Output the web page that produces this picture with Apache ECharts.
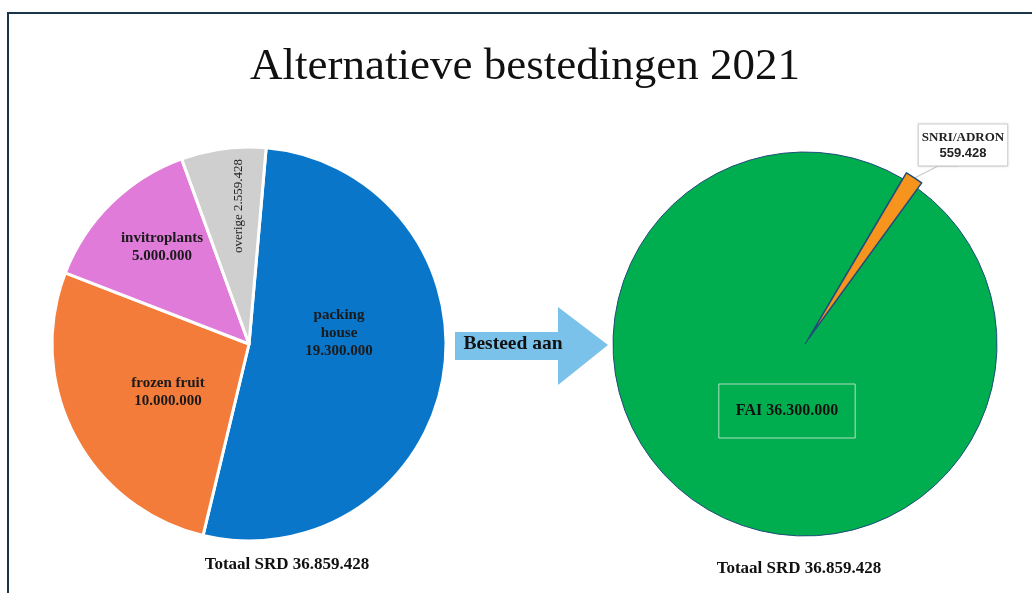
<!DOCTYPE html>
<html>
<head>
<meta charset="utf-8">
<script src="https://cdn.jsdelivr.net/npm/echarts@6/dist/echarts.min.js"></script>
<style>
  html, body { margin: 0; padding: 0; background: #fff; }
  #chart { width: 1032px; height: 593px; }
</style>
</head>
<body>
<div id="chart"></div>
<script>
// Linker taart: geplande bestedingen
const categories = ['packing house', 'frozen fruit', 'invitroplants', 'overige'];
const values = [19300000, 10000000, 5000000, 2559428];
const colors = ['#0A76CA', '#F47C3A', '#E07BDA', '#CFCFCF'];

// Rechter taart: waar het aan besteed is
const categories2 = ['FAI', 'SNRI/ADRON'];
const values2 = [36300000, 559428];
const colors2 = ['#00AE4F', '#F7941D'];

const serif = 'Liberation Serif';

// getal met punten als duizendtallen
function fmt(n) {
    return String(n).replace(/\B(?=(\d{3})+(?!\d))/g, '.');
}

const total1 = values.reduce((a, b) => a + b, 0);
const total2 = values2.reduce((a, b) => a + b, 0);

// labelposities (pixels) voor de linker taart
const leftLabelPos = [[339, 333], [168, 392], [162, 247], [239, 206]];

// rechter taart geometrie
const center2 = [805, 344];
const radius2 = 192;
const start2 = 54;
const offset2 = 7;

// middenhoek van het SNRI-stuk, uit de waarden
const midRad = (start2 - (values2[0] + values2[1] / 2) / total2 * 360) * Math.PI / 180;
// middelpunt van het uitgetrokken stuk
const center3 = [center2[0] + offset2 * Math.cos(midRad), center2[1] - offset2 * Math.sin(midRad)];
const tip = [center3[0] + (radius2 - 1) * Math.cos(midRad), center3[1] - (radius2 - 1) * Math.sin(midRad)];

const chart = echarts.init(document.getElementById('chart'));

const option = {
    backgroundColor: '#fff',
    animation: false,
    title: [
        {
            text: 'Alternatieve bestedingen 2021',
            left: 520, top: 40, textAlign: 'center',
            textStyle: { fontFamily: serif, fontSize: 45, fontWeight: 'normal', color: '#111' }
        },
        {
            text: 'Totaal SRD ' + fmt(total1),
            left: 282, top: 551, textAlign: 'center',
            textStyle: { fontFamily: serif, fontSize: 17, fontWeight: 'bold', color: '#111' }
        },
        {
            text: 'Totaal SRD ' + fmt(total2),
            left: 794, top: 555, textAlign: 'center',
            textStyle: { fontFamily: serif, fontSize: 17, fontWeight: 'bold', color: '#111' }
        }
    ],
    graphic: [
        {
            type: 'rect', silent: true,
            shape: { x: 8, y: 13, width: 1040, height: 600 },
            style: { fill: 'none', stroke: '#1B3447', lineWidth: 2 }
        },
        {
            type: 'polygon', silent: true,
            shape: { points: [[455, 332], [558, 332], [558, 307], [608, 345], [558, 385], [558, 360], [455, 360]] },
            style: { fill: '#7AC2EA' }
        },
        {
            type: 'text', silent: true,
            x: 513, y: 344,
            style: {
                text: 'Besteed aan', fontFamily: serif, fontSize: 19.5, fontWeight: 'bold',
                fill: '#111', align: 'center', verticalAlign: 'middle'
            }
        }
    ],
    series: [
        {
            type: 'pie',
            center: [249, 344],
            radius: 197,
            startAngle: 85,
            clockwise: true,
            emphasis: { disabled: true },
            itemStyle: { borderColor: '#fff', borderWidth: 3 },
            label: {
                show: true,
                position: 'inside',
                fontFamily: serif,
                fontSize: 15,
                fontWeight: 'bold',
                color: '#1a1a1a',
                lineHeight: 18,
                formatter: p => {
                    const name = p.dataIndex === 0 ? p.name.replace(' ', '\n') : p.name;
                    if (p.dataIndex === 3) return name + ' ' + fmt(p.value);
                    return name + '\n' + fmt(p.value);
                }
            },
            labelLine: { show: false },
            labelLayout: p => ({
                x: leftLabelPos[p.dataIndex][0],
                y: leftLabelPos[p.dataIndex][1],
                align: 'center',
                verticalAlign: 'middle'
            }),
            data: categories.map((c, i) => ({
                name: c,
                value: values[i],
                itemStyle: { color: colors[i] },
                label: i === 3 ? { rotate: 90, fontWeight: 'normal', fontSize: 13, color: '#222' } : {}
            }))
        },
        // rechts: FAI (SNRI-plek leeg gelaten)
        {
            type: 'pie',
            center: center2,
            radius: radius2,
            startAngle: start2,
            clockwise: true,
            emphasis: { disabled: true },
            data: categories2.map((c, i) => ({
                name: c,
                value: values2[i],
                itemStyle: i === 0
                    ? { color: colors2[0], borderColor: '#1F4E79', borderWidth: 1 }
                    : { color: 'rgba(0,0,0,0)', borderWidth: 0 },
                label: i === 0 ? {
                    show: true,
                    position: 'inside',
                    formatter: p => p.name + ' ' + fmt(p.value),
                    fontFamily: serif, fontSize: 16, fontWeight: 'bold', color: '#111',
                    borderColor: 'rgba(220,240,225,0.8)', borderWidth: 1,
                    padding: [19, 17, 19, 17]
                } : { show: false },
                labelLine: { show: false }
            })),
            labelLayout: p => p.dataIndex === 0
                ? { x: 787, y: 411, align: 'center', verticalAlign: 'middle' }
                : {}
        },
        // rechts: uitgetrokken SNRI/ADRON stuk
        {
            type: 'pie',
            center: center3,
            radius: radius2,
            startAngle: start2,
            clockwise: true,
            emphasis: { disabled: true },
            data: categories2.map((c, i) => ({
                name: c,
                value: values2[i],
                itemStyle: i === 1
                    ? { color: colors2[1], borderColor: '#1F4E79', borderWidth: 1.5 }
                    : { color: 'rgba(0,0,0,0)', borderWidth: 0 },
                label: i === 1 ? {
                    show: true,
                    position: 'outside',
                    overflow: 'none',
                    formatter: p => '{a|' + p.name + '}\n{b|' + fmt(p.value) + '}',
                    backgroundColor: '#fff',
                    borderColor: '#d0d0d0', borderWidth: 1,
                    padding: [5, 4, 4, 4],
                    shadowColor: 'rgba(0,0,0,0.12)', shadowBlur: 3,
                    rich: {
                        a: { fontFamily: serif, fontSize: 13, fontWeight: 'bold', color: '#222', lineHeight: 16, align: 'center' },
                        b: { fontFamily: 'Liberation Sans', fontSize: 13, fontWeight: 'bold', color: '#222', lineHeight: 16, align: 'center' }
                    }
                } : { show: false },
                labelLine: i === 1
                    ? { show: true, length: 8, length2: 10, lineStyle: { color: '#c8c8c8', width: 1.2 } }
                    : { show: false }
            })),
            labelLayout: p => p.dataIndex === 1
                ? {
                    x: 963, y: 145, align: 'center', verticalAlign: 'middle',
                    labelLinePoints: [tip, [938, 166], [958, 166]]
                }
                : {}
        }
    ]
};

chart.setOption(option);
</script>
</body>
</html>
